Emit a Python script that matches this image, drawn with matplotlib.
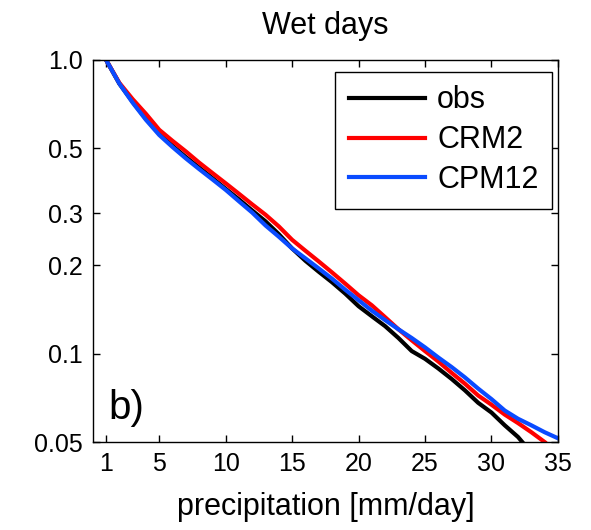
import numpy as np
import matplotlib
matplotlib.use("Agg")
import matplotlib.pyplot as plt

plt.rcParams['font.family'] = ['Liberation Sans', 'DejaVu Sans']

# fraction of wet days exceeding threshold
precip = list(range(1, 36))
obs = [1.0, 0.83, 0.72, 0.63, 0.562, 0.510, 0.467, 0.430, 0.396, 0.364,
       0.335, 0.307, 0.282, 0.255, 0.228, 0.207, 0.190, 0.175, 0.160, 0.145,
       0.134, 0.124, 0.113, 0.102, 0.096, 0.089, 0.082, 0.075, 0.068, 0.063,
       0.057, 0.052, 0.046]
crm2 = [1.0, 0.835, 0.735, 0.655, 0.578, 0.530, 0.488, 0.447, 0.412, 0.380,
        0.350, 0.322, 0.297, 0.271, 0.244, 0.224, 0.206, 0.189, 0.173, 0.158,
        0.146, 0.133, 0.121, 0.111, 0.102, 0.094, 0.086, 0.079, 0.072, 0.067,
        0.062, 0.058, 0.054, 0.050]
cpm12 = [1.0, 0.83, 0.715, 0.625, 0.555, 0.505, 0.462, 0.425, 0.392, 0.361,
         0.330, 0.302, 0.273, 0.250, 0.228, 0.211, 0.195, 0.180, 0.165, 0.152,
         0.140, 0.130, 0.121, 0.113, 0.105, 0.097, 0.090, 0.083, 0.076, 0.070,
         0.064, 0.060, 0.057, 0.054, 0.0515]

xticks = [1, 5, 10, 15, 20, 25, 30, 35]
yticks = [0.05, 0.1, 0.2, 0.3, 0.5, 1.0]
ytick_labels = ['0.05', '0.1', '0.2', '0.3', '0.5', '1.0']


fig = plt.figure(figsize=(5.91, 5.30), dpi=100)
ax = fig.add_axes((0.157, 0.166, 0.787, 0.721))

ax.plot(precip[:len(obs)], obs, color='black', lw=3, label='obs')
ax.plot(precip[:len(crm2)], crm2, color='#ff0000', lw=3, label='CRM2')
ax.plot(precip[:len(cpm12)], cpm12, color='#0a4bff', lw=3, label='CPM12')

ax.set_yscale('log')
ax.set_xlim(0, 35)
ax.set_ylim(0.05, 1.0)
ax.set_xticks(xticks)
ax.set_yticks(yticks)
ax.set_yticklabels(ytick_labels)
ax.yaxis.set_minor_locator(matplotlib.ticker.NullLocator())
ax.tick_params(direction='in', top=True, right=True, length=5, width=1,
               labelsize=18, pad=7)
for s in ax.spines.values():
    s.set_linewidth(1)

ax.set_title('Wet days', fontsize=22, pad=19)
ax.set_xlabel('precipitation [mm/day]', fontsize=22, labelpad=12)
ax.text(0.034, 0.06, 'b)', transform=ax.transAxes, fontsize=29, va='baseline')

leg = ax.legend(loc='upper right', bbox_to_anchor=(0.988, 0.969), borderaxespad=0,
                fontsize=22, fancybox=False, framealpha=1, edgecolor='black',
                handlelength=2.5, handletextpad=0.4, labelspacing=0.32,
                borderpad=0.45)
leg.get_frame().set_linewidth(1)

fig.savefig('out.png', dpi=100)
